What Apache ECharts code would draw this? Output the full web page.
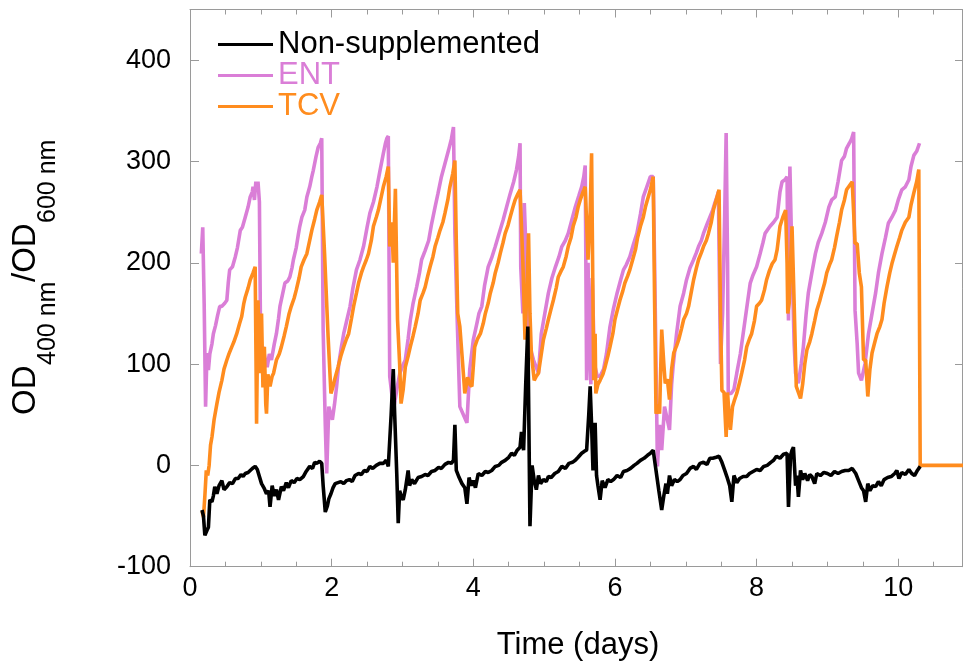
<!DOCTYPE html>
<html><head><meta charset="utf-8">
<script src="https://cdn.jsdelivr.net/npm/echarts@6/dist/echarts.min.js"></script>
<style>html,body{margin:0;padding:0;background:#fff}#c{width:963px;height:666px}</style>
</head><body><div id="c"></div>
<script>
const seriesNames = ['Non-supplemented', 'ENT', 'TCV'];
const xTickLabels = ['0', '2', '4', '6', '8', '10'];
const yTickLabels = ['-100', '0', '100', '200', '300', '400'];

const nonSupplemented = [[0.17,-44],[0.19,-50],[0.21,-69],[0.24,-64],[0.26,-61],[0.28,-34],[0.31,-36],[0.33,-30],[0.35,-21],[0.38,-28],[0.41,-20],[0.45,-15],[0.48,-24],[0.52,-21],[0.56,-17],[0.60,-18],[0.64,-13],[0.68,-13],[0.72,-9],[0.75,-11],[0.78,-8],[0.82,-7],[0.85,-5],[0.88,-3],[0.92,-1],[0.95,-4],[1.01,-18],[1.05,-23],[1.08,-28],[1.11,-25],[1.13,-41],[1.16,-20],[1.19,-30],[1.22,-24],[1.25,-34],[1.29,-21],[1.32,-25],[1.36,-17],[1.39,-22],[1.43,-15],[1.47,-17],[1.51,-13],[1.55,-14],[1.60,-11],[1.64,-6],[1.69,-1],[1.73,-3],[1.76,3],[1.79,2],[1.83,4],[1.86,2],[1.88,-20],[1.91,-46],[1.94,-40],[1.96,-33],[1.99,-28],[2.02,-22],[2.05,-18],[2.09,-17],[2.13,-16],[2.17,-18],[2.21,-15],[2.25,-14],[2.29,-16],[2.33,-10],[2.38,-8],[2.42,-9],[2.46,-5],[2.50,-6],[2.54,-1],[2.58,-3],[2.63,0],[2.68,2],[2.73,2],[2.77,5],[2.80,-1],[2.84,50],[2.87,95],[2.89,50],[2.92,-10],[2.94,-57],[2.96,-25],[2.98,-30],[3.01,-34],[3.04,-24],[3.08,-5],[3.10,-20],[3.13,-14],[3.17,-18],[3.22,-12],[3.27,-11],[3.32,-9],[3.36,-10],[3.41,-6],[3.46,-5],[3.51,-2],[3.55,-3],[3.60,1],[3.65,3],[3.69,2],[3.72,5],[3.74,40],[3.76,-5],[3.80,-12],[3.84,-18],[3.88,-22],[3.91,-38],[3.94,-12],[3.97,-20],[4.0,-15],[4.03,-22],[4.07,-8],[4.12,-10],[4.17,-6],[4.21,-7],[4.26,-5],[4.31,-1],[4.36,0],[4.40,3],[4.45,5],[4.50,8],[4.54,12],[4.58,10],[4.62,15],[4.66,18],[4.68,33],[4.71,15],[4.74,80],[4.77,137],[4.80,-60],[4.83,0],[4.86,-15],[4.89,-24],[4.92,-10],[4.95,-18],[4.99,-14],[5.03,-16],[5.06,-11],[5.10,-12],[5.15,-8],[5.20,-6],[5.25,-1],[5.30,-3],[5.35,2],[5.40,3],[5.44,5],[5.48,8],[5.53,12],[5.57,14],[5.60,15],[5.63,50],[5.65,78],[5.67,40],[5.69,-5],[5.72,42],[5.74,-10],[5.76,-20],[5.79,-34],[5.82,-15],[5.86,-22],[5.90,-14],[5.94,-16],[5.98,-14],[6.03,-10],[6.08,-12],[6.12,-6],[6.17,-5],[6.22,-3],[6.27,0],[6.31,2],[6.36,5],[6.41,7],[6.46,10],[6.50,12],[6.54,15],[6.57,0],[6.62,-25],[6.66,-44],[6.69,-30],[6.72,-18],[6.74,-28],[6.77,-10],[6.80,-20],[6.84,-14],[6.88,-16],[6.92,-14],[6.96,-10],[7.01,-8],[7.06,-3],[7.11,-1],[7.15,-4],[7.20,2],[7.25,3],[7.30,1],[7.34,7],[7.38,7],[7.43,8],[7.47,9],[7.51,3],[7.55,-5],[7.58,-11],[7.62,-20],[7.65,-36],[7.68,-10],[7.72,-17],[7.76,-13],[7.81,-11],[7.86,-11],[7.90,-8],[7.95,-6],[8.0,-4],[8.05,-5],[8.10,-1],[8.15,0],[8.20,3],[8.24,5],[8.28,9],[8.33,7],[8.38,11],[8.43,12],[8.45,-41],[8.48,10],[8.50,15],[8.52,18],[8.55,-20],[8.57,-10],[8.59,-31],[8.62,-5],[8.65,-14],[8.68,-8],[8.72,-15],[8.75,-9],[8.78,-11],[8.82,-18],[8.85,-8],[8.90,-10],[8.95,-7],[9.0,-8],[9.05,-10],[9.10,-6],[9.15,-8],[9.20,-6],[9.25,-5],[9.30,-5],[9.35,-3],[9.40,-8],[9.44,-15],[9.48,-22],[9.51,-25],[9.54,-36],[9.57,-18],[9.60,-25],[9.64,-20],[9.68,-21],[9.72,-16],[9.76,-20],[9.80,-14],[9.85,-12],[9.90,-11],[9.95,-8],[9.98,-5],[10.01,-13],[10.05,-7],[10.10,-9],[10.15,-4],[10.19,-8],[10.23,-10],[10.27,-5],[10.31,-1]];

const entValues = [[0.16,209],[0.18,235],[0.20,160],[0.22,58],[0.24,111],[0.26,94],[0.28,110],[0.31,120],[0.33,130],[0.36,138],[0.39,148],[0.42,157],[0.45,157],[0.49,160],[0.52,163],[0.54,180],[0.56,193],[0.60,196],[0.64,206],[0.67,215],[0.71,232],[0.74,235],[0.78,245],[0.82,255],[0.85,265],[0.88,270],[0.89,275],[0.91,262],[0.93,280],[0.95,270],[0.96,280],[0.98,260],[1.0,97],[1.03,117],[1.06,105],[1.09,97],[1.12,110],[1.15,104],[1.19,120],[1.22,130],[1.25,145],[1.27,157],[1.31,170],[1.34,180],[1.38,182],[1.41,186],[1.44,195],[1.46,203],[1.50,215],[1.53,228],[1.55,236],[1.58,245],[1.62,252],[1.65,265],[1.69,275],[1.72,285],[1.74,291],[1.78,305],[1.81,314],[1.84,318],[1.86,323],[1.88,134],[1.91,40],[1.93,-8],[1.96,58],[1.99,50],[2.01,45],[2.04,60],[2.07,78],[2.10,100],[2.14,118],[2.17,130],[2.21,142],[2.26,157],[2.30,175],[2.35,193],[2.40,203],[2.45,216],[2.50,235],[2.54,249],[2.59,260],[2.64,275],[2.68,290],[2.73,308],[2.76,318],[2.78,323],[2.80,325],[2.82,88],[2.85,70],[2.88,58],[2.92,75],[2.96,90],[3.0,98],[3.04,104],[3.08,125],[3.11,143],[3.15,160],[3.20,176],[3.24,190],[3.27,203],[3.32,212],[3.37,222],[3.41,238],[3.46,255],[3.50,268],[3.55,285],[3.60,298],[3.65,311],[3.69,322],[3.72,334],[3.74,229],[3.77,150],[3.81,58],[3.86,50],[3.91,42],[3.95,95],[4.0,124],[4.05,140],[4.08,150],[4.12,157],[4.16,178],[4.21,196],[4.26,205],[4.31,216],[4.36,228],[4.42,242],[4.47,255],[4.52,268],[4.57,280],[4.61,292],[4.64,305],[4.66,318],[4.67,196],[4.70,150],[4.72,259],[4.75,200],[4.78,130],[4.82,112],[4.85,104],[4.92,91],[4.96,130],[5.01,150],[5.06,170],[5.11,185],[5.16,196],[5.21,206],[5.25,216],[5.30,222],[5.34,229],[5.39,242],[5.44,255],[5.49,266],[5.53,275],[5.56,285],[5.58,296],[5.60,84],[5.62,200],[5.64,120],[5.66,80],[5.68,185],[5.71,100],[5.75,88],[5.79,88],[5.84,95],[5.88,110],[5.93,137],[5.98,155],[6.03,170],[6.08,183],[6.12,193],[6.16,198],[6.21,206],[6.26,218],[6.31,229],[6.36,248],[6.40,265],[6.45,275],[6.50,285],[6.54,285],[6.56,200],[6.60,-1],[6.63,40],[6.66,15],[6.70,58],[6.74,45],[6.77,35],[6.80,80],[6.82,97],[6.87,130],[6.92,157],[6.97,170],[7.01,183],[7.06,195],[7.11,203],[7.15,210],[7.18,216],[7.22,222],[7.25,229],[7.30,238],[7.34,245],[7.38,252],[7.41,259],[7.44,265],[7.46,270],[7.49,100],[7.52,150],[7.55,250],[7.57,328],[7.59,200],[7.60,71],[7.64,71],[7.68,75],[7.72,91],[7.77,110],[7.81,130],[7.86,155],[7.91,180],[7.95,188],[8.0,196],[8.05,209],[8.09,220],[8.12,229],[8.16,233],[8.19,236],[8.24,240],[8.29,245],[8.33,270],[8.36,280],[8.40,282],[8.43,285],[8.45,143],[8.47,295],[8.50,200],[8.53,120],[8.55,91],[8.59,81],[8.63,100],[8.66,117],[8.70,150],[8.73,170],[8.78,190],[8.83,209],[8.87,220],[8.92,229],[8.97,240],[9.02,255],[9.06,262],[9.11,265],[9.15,280],[9.20,301],[9.24,305],[9.27,313],[9.31,318],[9.34,322],[9.37,329],[9.39,153],[9.42,120],[9.44,91],[9.48,84],[9.53,100],[9.58,130],[9.63,150],[9.68,170],[9.72,190],[9.77,209],[9.82,225],[9.86,239],[9.91,245],[9.96,252],[10.0,262],[10.05,272],[10.10,275],[10.15,282],[10.18,295],[10.22,306],[10.26,310],[10.30,318]];

const tcvValues = [[0.17,-45],[0.19,-51],[0.21,-30],[0.23,-5],[0.25,-10],[0.27,0],[0.29,20],[0.31,28],[0.34,45],[0.38,61],[0.41,72],[0.45,84],[0.48,95],[0.52,104],[0.55,110],[0.59,117],[0.62,122],[0.66,130],[0.70,140],[0.73,147],[0.76,160],[0.78,166],[0.82,175],[0.85,183],[0.89,190],[0.92,196],[0.93,120],[0.94,41],[0.96,163],[0.98,120],[0.99,91],[1.01,150],[1.03,77],[1.05,117],[1.07,60],[1.08,51],[1.10,90],[1.13,78],[1.16,88],[1.18,91],[1.22,104],[1.26,110],[1.29,117],[1.33,128],[1.36,137],[1.40,150],[1.43,157],[1.47,165],[1.50,173],[1.54,185],[1.57,196],[1.61,203],[1.65,209],[1.69,222],[1.72,232],[1.76,243],[1.79,252],[1.83,260],[1.86,267],[1.90,209],[1.95,127],[1.99,71],[2.02,78],[2.04,84],[2.09,97],[2.13,108],[2.17,117],[2.21,125],[2.24,130],[2.28,145],[2.31,157],[2.35,170],[2.38,180],[2.42,190],[2.45,196],[2.49,203],[2.52,209],[2.56,222],[2.59,236],[2.63,245],[2.66,252],[2.70,265],[2.73,275],[2.77,285],[2.80,295],[2.82,216],[2.85,240],[2.87,200],[2.90,273],[2.93,144],[2.96,100],[2.98,61],[3.01,75],[3.04,97],[3.08,108],[3.11,117],[3.15,128],[3.18,137],[3.22,150],[3.25,163],[3.29,170],[3.32,176],[3.36,188],[3.39,196],[3.43,206],[3.46,216],[3.50,225],[3.53,232],[3.57,240],[3.60,249],[3.64,262],[3.67,275],[3.71,288],[3.74,301],[3.76,220],[3.78,150],[3.81,137],[3.85,100],[3.88,71],[3.92,87],[3.95,80],[3.98,78],[4.02,117],[4.06,125],[4.10,130],[4.14,140],[4.17,150],[4.21,160],[4.24,170],[4.28,180],[4.31,190],[4.35,200],[4.38,209],[4.42,220],[4.45,229],[4.49,237],[4.52,245],[4.56,255],[4.59,262],[4.63,268],[4.66,272],[4.70,200],[4.73,124],[4.76,180],[4.78,229],[4.80,150],[4.82,110],[4.86,84],[4.89,88],[4.92,91],[4.96,110],[4.99,124],[5.03,135],[5.06,144],[5.10,155],[5.13,163],[5.17,175],[5.20,186],[5.24,192],[5.27,196],[5.31,206],[5.34,216],[5.38,225],[5.41,236],[5.45,245],[5.48,255],[5.51,262],[5.55,270],[5.58,275],[5.60,240],[5.62,203],[5.65,250],[5.67,308],[5.70,84],[5.72,130],[5.73,71],[5.76,80],[5.79,84],[5.83,90],[5.86,97],[5.90,108],[5.93,117],[5.97,130],[6.0,144],[6.04,155],[6.07,163],[6.11,172],[6.14,180],[6.18,187],[6.21,193],[6.25,203],[6.29,213],[6.32,225],[6.36,236],[6.40,245],[6.43,255],[6.47,265],[6.50,272],[6.54,285],[6.56,160],[6.58,51],[6.61,60],[6.63,51],[6.66,134],[6.69,100],[6.71,81],[6.74,85],[6.77,65],[6.80,95],[6.83,111],[6.87,118],[6.90,124],[6.94,135],[6.97,144],[7.01,150],[7.04,157],[7.08,172],[7.11,183],[7.15,195],[7.18,203],[7.22,210],[7.25,216],[7.29,222],[7.32,229],[7.36,240],[7.39,252],[7.43,262],[7.47,272],[7.49,150],[7.51,74],[7.54,72],[7.57,28],[7.59,72],[7.61,50],[7.63,35],[7.66,58],[7.69,65],[7.72,71],[7.76,82],[7.79,91],[7.83,104],[7.86,117],[7.90,125],[7.93,130],[7.97,143],[8.0,157],[8.04,160],[8.07,163],[8.11,173],[8.14,183],[8.18,192],[8.22,199],[8.26,203],[8.29,213],[8.33,236],[8.37,245],[8.41,252],[8.43,200],[8.44,150],[8.46,160],[8.48,200],[8.50,236],[8.53,160],[8.56,78],[8.59,72],[8.62,66],[8.65,80],[8.68,100],[8.71,114],[8.75,122],[8.78,130],[8.82,143],[8.85,153],[8.89,162],[8.92,170],[8.96,180],[8.99,190],[9.03,198],[9.06,203],[9.10,215],[9.13,226],[9.17,240],[9.20,252],[9.24,262],[9.27,272],[9.31,276],[9.35,280],[9.37,250],[9.39,219],[9.42,219],[9.45,190],[9.48,176],[9.51,104],[9.54,104],[9.57,68],[9.60,95],[9.63,111],[9.67,122],[9.70,130],[9.74,137],[9.77,144],[9.80,160],[9.84,176],[9.88,190],[9.91,199],[9.95,209],[9.98,216],[10.02,225],[10.05,232],[10.10,240],[10.15,245],[10.18,257],[10.22,269],[10.26,280],[10.29,292],[10.31,0],[11,0]];

const colors = {'Non-supplemented': '#000000', 'ENT': '#DA7ED7', 'TCV': '#FF8C1E'};
const FONT = '"Liberation Sans", Arial, Helvetica, sans-serif';
const axisGray = '#9a9a9a';

const chart = echarts.init(document.getElementById('c'), null, {renderer: 'canvas'});
const xBase = {
  type: 'value', min: 0, max: 10.9, interval: 2,
  axisLine: {show: true, onZero: false, lineStyle: {color: axisGray, width: 1}},
  axisTick: {show: true, inside: true, length: 8, lineStyle: {color: axisGray}},
  minorTick: {show: true, splitNumber: 4, length: 5, lineStyle: {color: axisGray}},
  splitLine: {show: false}, minorSplitLine: {show: false}
};
const yBase = {
  type: 'value', min: -100, max: 450, interval: 100,
  axisLine: {show: true, onZero: false, lineStyle: {color: axisGray, width: 1}},
  axisTick: {show: true, inside: true, length: 9, lineStyle: {color: axisGray}},
  splitLine: {show: false}
};
const inX = v => xTickLabels.indexOf(String(v)) >= 0;
const inY = v => yTickLabels.indexOf(String(v)) >= 0;
const LW = 3.6;

chart.setOption({
  animation: false,
  backgroundColor: '#fff',
  grid: {left: 190, right: 1, top: 9.5, bottom: 99.3, containLabel: false},
  legend: {
    orient: 'vertical', left: 218, top: 29, padding: 0, itemGap: 0,
    itemWidth: 55, itemHeight: 3, icon: 'rect', selectedMode: false,
    textStyle: {fontSize: 31, fontFamily: FONT, lineHeight: 31},
    data: seriesNames.map(n => ({name: n, textStyle: {color: colors[n]}}))
  },
  xAxis: [
    Object.assign({}, xBase, {position: 'bottom',
      axisLabel: {show: true, fontSize: 27, fontFamily: FONT, color: '#000', margin: 8,
        showMaxLabel: false, formatter: v => inX(v) ? String(v) : ''}}),
    Object.assign({}, xBase, {position: 'top', axisLabel: {show: false}})
  ],
  yAxis: [
    Object.assign({}, yBase, {position: 'left',
      axisLabel: {show: true, fontSize: 27, fontFamily: FONT, color: '#000', margin: 19,
        showMaxLabel: false, formatter: v => inY(v) ? String(v) : ''}}),
    Object.assign({}, yBase, {position: 'right', axisTick: {show: true, inside: true, length: 7, lineStyle: {color: axisGray}}, axisLabel: {show: false}})
  ],
  series: [
    {name: seriesNames[0], type: 'line', data: nonSupplemented, showSymbol: false, z: 5,
      lineStyle: {color: colors['Non-supplemented'], width: LW}, itemStyle: {color: colors['Non-supplemented']}},
    {name: seriesNames[1], type: 'line', data: entValues, showSymbol: false, z: 2,
      lineStyle: {color: colors['ENT'], width: LW}, itemStyle: {color: colors['ENT']}},
    {name: seriesNames[2], type: 'line', data: tcvValues, showSymbol: false, z: 3,
      lineStyle: {color: colors['TCV'], width: LW}, itemStyle: {color: colors['TCV']}}
  ],
  graphic: [
    {type: 'text', x: 578, y: 630, style: {text: 'Time (days)', font: '31px ' + FONT, fill: '#000', align: 'center', verticalAlign: 'top'}},
    {type: 'group', x: 42, y: 415, rotation: Math.PI / 2, children: [
      {type: 'text', x: 0, y: 0, style: {text: 'OD', font: '33px ' + FONT, fill: '#000', verticalAlign: 'bottom', align: 'left'}},
      {type: 'text', x: 50, y: 19, style: {text: '400 nm', font: '25px ' + FONT, fill: '#000', verticalAlign: 'bottom', align: 'left'}},
      {type: 'text', x: 133, y: 0, style: {text: '/OD', font: '33px ' + FONT, fill: '#000', verticalAlign: 'bottom', align: 'left'}},
      {type: 'text', x: 192, y: 19, style: {text: '600 nm', font: '25px ' + FONT, fill: '#000', verticalAlign: 'bottom', align: 'left'}}
    ]}
  ]
});
</script></body></html>
